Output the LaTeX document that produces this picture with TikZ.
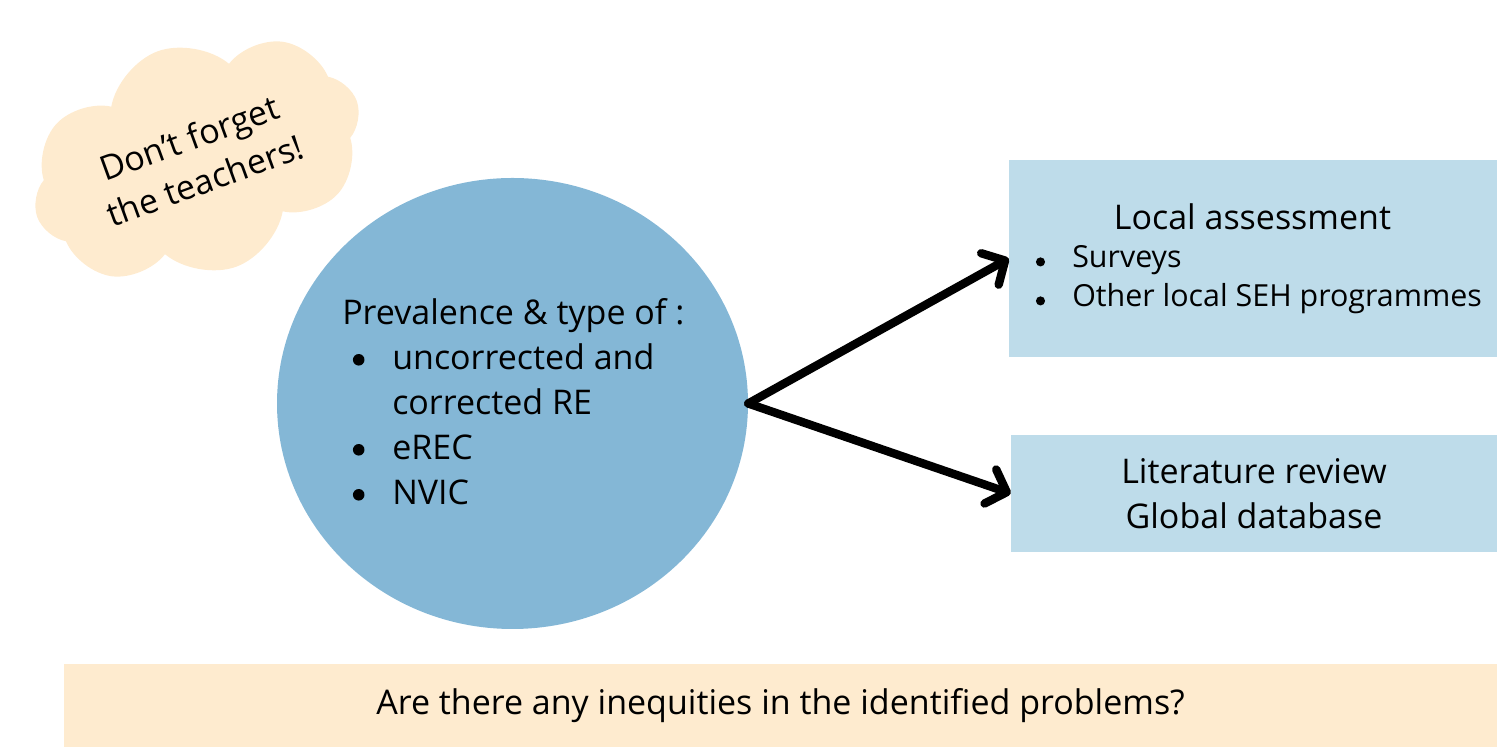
\documentclass[tikz,border=0pt]{standalone}
\usepackage{fontspec}
\setmainfont{Open Sans}
\definecolor{circblue}{RGB}{132, 183, 214}
\definecolor{boxblue}{RGB}{190, 220, 234}
\definecolor{beige}{RGB}{254, 235, 207}
\usetikzlibrary{arrows.meta}
\usetikzlibrary{positioning}
\usetikzlibrary{shapes.geometric}
\usetikzlibrary{shapes.symbols}
\newcommand{\bigfont}{\fontsize{25.5}{33.75}\selectfont}
\newcommand{\smallfont}{\fontsize{22.8}{29.25}\selectfont}
% round bullet: raise, radius
\newcommand{\dotmark}[2]{\tikz[baseline=0pt]\fill[black] (0,#1) circle[radius=#2];}
\newcommand{\circitem}[1]{\hspace*{8pt}\makebox[29.5pt][l]{\dotmark{0.3em}{0.17em}}#1}
\newcommand{\boxitem}[1]{\hspace*{2pt}\makebox[27.25pt][l]{\dotmark{0.2em}{0.15em}}#1}
\tikzset{
  bluebox/.style={rectangle, fill=boxblue, inner sep=0, align=center, font=\bigfont},
  bigarrow/.style={-{Straight Barb[round, length=13pt, width=27pt]}, line width=6.3pt, line cap=round},
  label text/.style={inner sep=0, text=black}
}

\begin{document}
\begin{tikzpicture}[x=0.75pt, y=0.75pt]
\useasboundingbox (0,0) rectangle (1500,749);

% cloud note
\node[cloud, cloud puffs=8, cloud puff arc=120, cloud ignores aspect, fill=beige, inner sep=0,
      minimum width=255pt, minimum height=172pt, rotate=20,
      align=center, font=\fontsize{25.5}{34}\selectfont] (note) at (197,590)
      {Don’t forget\\the teachers!};

% main circle
\node[ellipse, fill=circblue, minimum width=353.25pt, minimum height=338.25pt] (prev) at (512.5,345.5) {};
\node[label text, anchor=base west, align=left, font=\bigfont] (prevtext) at (342,244)
  {Prevalence \& type of :\\
   \circitem{uncorrected and}\\
   \hspace*{37.5pt}corrected RE\\
   \circitem{eREC}\\
   \circitem{NVIC}};

% right boxes
\node[bluebox, minimum width=366pt, minimum height=147.75pt] (local) at (1253,490.5) {};
\node[label text, anchor=base, font=\bigfont] (localtitle) at (1252.5,519) {Local assessment};
\node[label text, anchor=base west, font=\smallfont] (surveys) at (1033,481) {\boxitem{Surveys}};
\node[label text, anchor=base west, font=\smallfont] (seh) at (1033,442) {\boxitem{Other local SEH programmes}};

\node[bluebox, minimum width=364.5pt, minimum height=87.75pt] (lit) at (1254,255.5)
  {Literature review\\Global database};

% bottom band
\node[rectangle, fill=beige, inner sep=0, minimum width=1074.75pt, minimum height=62.25pt,
      font=\bigfont] (inequity) at (780.5,43.5)
  {Are there any inequities in the identified problems?};

\draw[bigarrow] (prev.east) -- (local.west);
\draw[bigarrow] (prev.east) -- (lit.west);
\end{tikzpicture}
\end{document}
